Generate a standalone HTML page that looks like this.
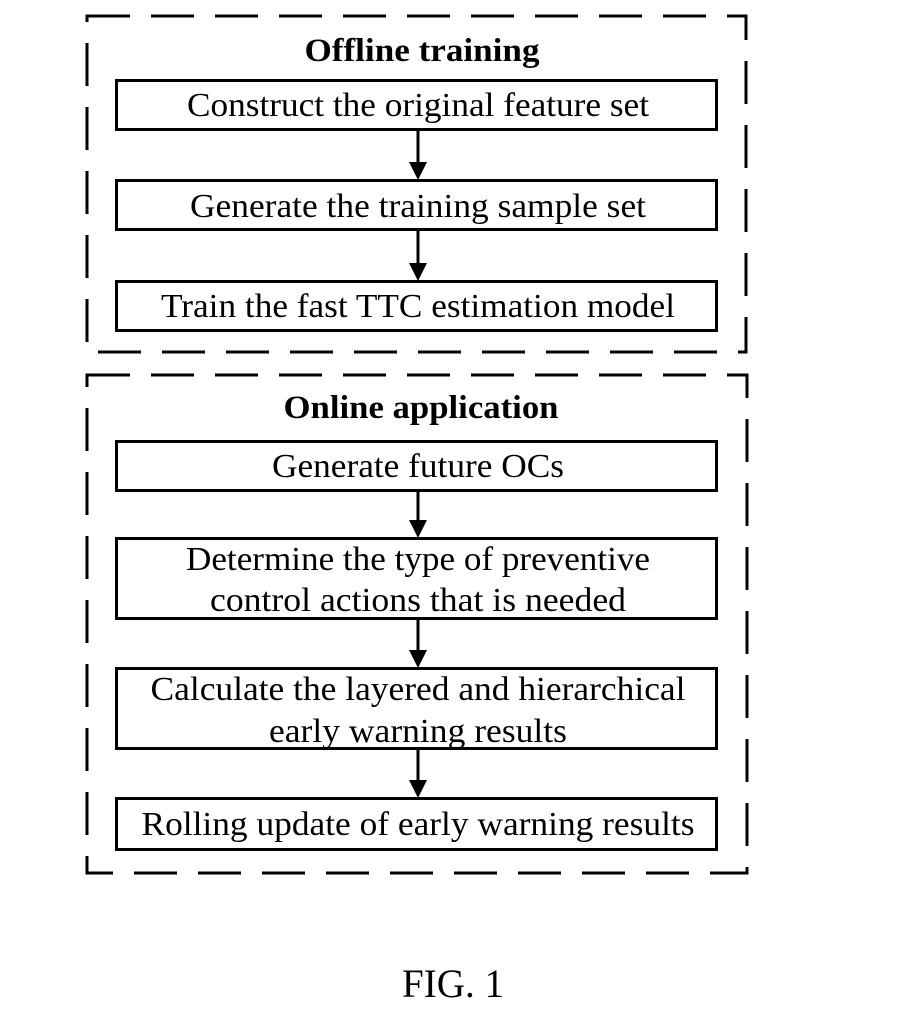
<!DOCTYPE html>
<html><head><meta charset="utf-8"><style>
html,body{margin:0;padding:0;background:#fff;}
svg{display:block;}
text{font-family:"Liberation Serif",serif;fill:#000;}
</style></head><body>
<svg width="921" height="1016" viewBox="0 0 921 1016" xmlns="http://www.w3.org/2000/svg">
<g fill="none" stroke="#000" stroke-width="3" stroke-dasharray="43 21">
<rect x="87" y="16" width="659" height="336"/>
<rect x="87" y="375" width="660" height="498"/>
</g>
<g fill="none" stroke="#000" stroke-width="3">
<rect x="116.5" y="80.5" width="600" height="49"/>
<rect x="116.5" y="180.5" width="600" height="49"/>
<rect x="116.5" y="281.5" width="600" height="49"/>
<rect x="116.5" y="441.5" width="600" height="49"/>
<rect x="116.5" y="538.5" width="600" height="80"/>
<rect x="116.5" y="668.5" width="600" height="80"/>
<rect x="116.5" y="798.5" width="600" height="51"/>
</g>
<g stroke="#000" stroke-width="3">
<line x1="418" y1="130" x2="418" y2="166"/>
<line x1="418" y1="230" x2="418" y2="267"/>
<line x1="418" y1="491" x2="418" y2="524"/>
<line x1="418" y1="619" x2="418" y2="654"/>
<line x1="418" y1="749" x2="418" y2="784"/>
</g>
<g fill="#000">
<polygon points="409,162 427,162 418,180"/>
<polygon points="409,263 427,263 418,281"/>
<polygon points="409,520 427,520 418,538"/>
<polygon points="409,650 427,650 418,668"/>
<polygon points="409,780 427,780 418,798"/>
</g>
<g font-size="34" text-anchor="middle">
<text x="422" y="61" font-weight="bold" font-size="33" textLength="235" lengthAdjust="spacingAndGlyphs">Offline training</text>
<text x="418" y="116" textLength="462" lengthAdjust="spacingAndGlyphs">Construct the original feature set</text>
<text x="418" y="217" textLength="456" lengthAdjust="spacingAndGlyphs">Generate the training sample set</text>
<text x="418" y="317" textLength="514" lengthAdjust="spacingAndGlyphs">Train the fast TTC estimation model</text>
<text x="421" y="418" font-weight="bold" font-size="33" textLength="275" lengthAdjust="spacingAndGlyphs">Online application</text>
<text x="418" y="477" textLength="292" lengthAdjust="spacingAndGlyphs">Generate future OCs</text>
<text x="418" y="570" textLength="464" lengthAdjust="spacingAndGlyphs">Determine the type of preventive</text>
<text x="418" y="611" textLength="416" lengthAdjust="spacingAndGlyphs">control actions that is needed</text>
<text x="418" y="700" textLength="535" lengthAdjust="spacingAndGlyphs">Calculate the layered and hierarchical</text>
<text x="418" y="742" textLength="298" lengthAdjust="spacingAndGlyphs">early warning results</text>
<text x="418" y="835" textLength="553" lengthAdjust="spacingAndGlyphs">Rolling update of early warning results</text>
<text x="453" y="997" font-size="40" textLength="102" lengthAdjust="spacingAndGlyphs">FIG. 1</text>
</g>
</svg>
</body></html>
